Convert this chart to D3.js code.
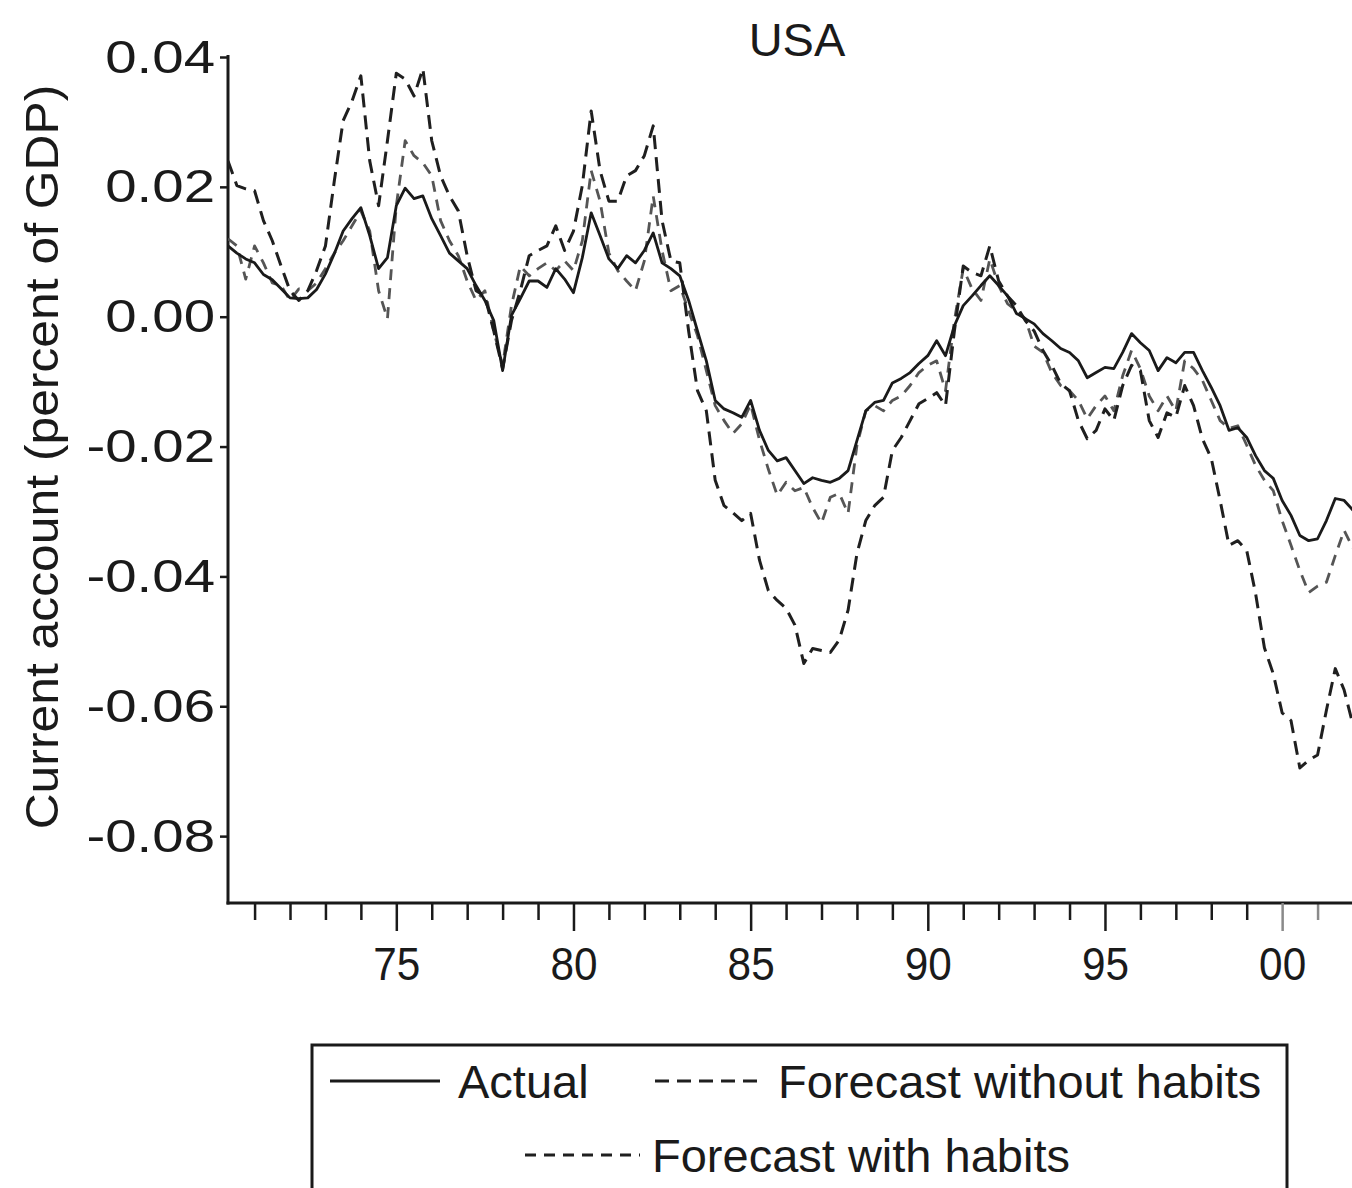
<!DOCTYPE html>
<html><head><meta charset="utf-8">
<script src="https://cdn.jsdelivr.net/npm/d3@7"></script>
<style>html,body{margin:0;padding:0;background:#fff;} svg{display:block;}</style>
</head><body><svg id="c" width="1352" height="1188"></svg>
<script>
// Quarterly observations, first quarter plotted at 1970.25
const startYear = 1970.25;
const stepYears = 0.25;

const actual = [0.0109,0.0098,0.0089,0.0083,0.0065,0.0057,0.0043,0.0029,0.0028,0.0029,
0.0042,0.0066,0.0097,0.0132,0.0151,0.0168,0.0125,0.0074,0.0091,0.0171,
0.0198,0.0182,0.0186,0.0151,0.0125,0.0098,0.0086,0.0074,0.0048,0.0025,
-0.0006,-0.0083,0.0002,0.0028,0.0055,0.0055,0.0045,0.0074,0.0058,0.0037,
0.0091,0.0160,0.0125,0.0089,0.0074,0.0094,0.0083,0.0102,0.0129,0.0083,
0.0074,0.0063,0.0025,-0.0022,-0.0068,-0.0129,-0.0142,-0.0148,-0.0155,-0.0129,
-0.0175,-0.0206,-0.0222,-0.0217,-0.0237,-0.0257,-0.0248,-0.0252,-0.0255,-0.0249,
-0.0237,-0.0191,-0.0145,-0.0132,-0.0129,-0.0102,-0.0095,-0.0086,-0.0072,-0.0060,
-0.0037,-0.0060,-0.0014,0.0017,0.0032,0.0048,0.0063,0.0048,0.0032,0.0005,
-0.0003,-0.0011,-0.0026,-0.0037,-0.0049,-0.0055,-0.0068,-0.0094,-0.0086,-0.0078,
-0.0080,-0.0055,-0.0026,-0.0040,-0.0052,-0.0083,-0.0063,-0.0071,-0.0055,-0.0055,
-0.0083,-0.0109,-0.0137,-0.0175,-0.0171,-0.0186,-0.0214,-0.0237,-0.0249,-0.0283,
-0.0306,-0.0337,-0.0345,-0.0342,-0.0314,-0.0280,-0.0283,-0.0298];

const withoutHabits = [0.0240,0.0202,0.0197,0.0194,0.0148,0.0117,0.0078,0.0040,0.0025,0.0040,
0.0071,0.0109,0.0209,0.0302,0.0332,0.0371,0.0240,0.0171,0.0271,0.0375,
0.0366,0.0340,0.0382,0.0271,0.0217,0.0186,0.0163,0.0094,0.0040,0.0032,
-0.0022,-0.0080,-0.0006,0.0040,0.0094,0.0102,0.0109,0.0140,0.0102,0.0132,
0.0202,0.0317,0.0225,0.0178,0.0178,0.0217,0.0225,0.0248,0.0294,0.0148,
0.0086,0.0083,-0.0022,-0.0114,-0.0145,-0.0252,-0.0291,-0.0302,-0.0314,-0.0303,
-0.0375,-0.0422,-0.0437,-0.0449,-0.0475,-0.0534,-0.0511,-0.0514,-0.0517,-0.0498,
-0.0452,-0.0365,-0.0314,-0.0291,-0.0278,-0.0206,-0.0186,-0.0160,-0.0134,-0.0126,
-0.0117,-0.0137,-0.0022,0.0078,0.0068,0.0063,0.0109,0.0055,0.0032,0.0017,
-0.0006,-0.0022,-0.0052,-0.0075,-0.0103,-0.0114,-0.0160,-0.0188,-0.0175,-0.0142,
-0.0160,-0.0106,-0.0075,-0.0083,-0.0160,-0.0186,-0.0148,-0.0155,-0.0106,-0.0137,
-0.0188,-0.0218,-0.0283,-0.0352,-0.0345,-0.0360,-0.0426,-0.0510,-0.0550,-0.0610,
-0.0622,-0.0695,-0.0683,-0.0675,-0.0606,-0.0542,-0.0575,-0.0629];

const withHabits = [0.0120,0.0109,0.0058,0.0109,0.0083,0.0052,0.0048,0.0025,0.0043,0.0040,
0.0052,0.0074,0.0098,0.0117,0.0140,0.0163,0.0132,0.0040,-0.0003,0.0171,
0.0271,0.0248,0.0237,0.0217,0.0148,0.0117,0.0094,0.0055,0.0025,0.0040,
-0.0022,-0.0075,0.0017,0.0078,0.0063,0.0074,0.0083,0.0071,0.0086,0.0071,
0.0117,0.0225,0.0178,0.0098,0.0071,0.0055,0.0040,0.0086,0.0186,0.0102,
0.0040,0.0048,0.0009,-0.0029,-0.0083,-0.0137,-0.0160,-0.0180,-0.0165,-0.0135,
-0.0190,-0.0235,-0.0275,-0.0255,-0.0268,-0.0263,-0.0294,-0.0318,-0.0278,-0.0272,
-0.0303,-0.0198,-0.0145,-0.0137,-0.0145,-0.0129,-0.0122,-0.0106,-0.0086,-0.0075,
-0.0068,-0.0114,-0.0006,0.0074,0.0043,0.0025,0.0089,0.0048,0.0020,0.0009,
-0.0003,-0.0045,-0.0055,-0.0086,-0.0106,-0.0114,-0.0129,-0.0157,-0.0137,-0.0122,
-0.0145,-0.0091,-0.0052,-0.0080,-0.0122,-0.0145,-0.0122,-0.0145,-0.0068,-0.0080,
-0.0098,-0.0129,-0.0160,-0.0172,-0.0168,-0.0198,-0.0229,-0.0252,-0.0268,-0.0314,
-0.0352,-0.0391,-0.0425,-0.0415,-0.0409,-0.0368,-0.0329,-0.0357];

const yTickValues = [0.04, 0.02, 0.00, -0.02, -0.04, -0.06, -0.08];
const yTickLabels = ["0.04", "0.02", "0.00", "-0.02", "-0.04", "-0.06", "-0.08"];
const xMajorYears = [1975, 1980, 1985, 1990, 1995, 2000];
const xMajorLabels = ["75", "80", "85", "90", "95", "00"];
const xMinorYears = [1971,1972,1973,1974,1976,1977,1978,1979,1981,1982,1983,1984,1986,1987,1988,1989,1991,1992,1993,1994,1996,1997,1998,1999,2001];
const greyTickYears = [2000, 2001];

const seriesNames = ["Actual", "Forecast without habits", "Forecast with habits"];
const titleText = "USA";
const yTitle = "Current account (percent of GDP)";

// ---- drawing ----
const FONT = "'Liberation Sans', Arial, Helvetica, sans-serif";
const FS = 47;
const svg = d3.select("#c");
const dates = actual.map((_, i) => startYear + i * stepYears);

const x = d3.scaleLinear().domain([1970.25, 2002.0]).range([228, 1353]);
const y = d3.scaleLinear().domain([-0.0903, 0.04]).range([903, 57]);

// title
svg.append("text").attr("x", 797).attr("y", 56).attr("text-anchor", "middle")
  .attr("font-family", FONT).attr("font-size", FS).attr("fill", "#1a1a1a").text(titleText);

// y title
svg.append("text").attr("transform", "translate(58,457) rotate(-90) scale(1.06,1)")
  .attr("text-anchor", "middle").attr("font-family", FONT).attr("font-size", FS)
  .attr("fill", "#1a1a1a").text(yTitle);

// y axis
const gy = svg.append("g").attr("transform", "translate(228,0)")
  .call(d3.axisLeft(y).tickValues(yTickValues).tickFormat((d, i) => yTickLabels[i])
    .tickSize(8).tickSizeOuter(0).tickPadding(5));
gy.select(".domain").attr("stroke", "#1a1a1a").attr("stroke-width", 3);
gy.selectAll(".tick line").attr("stroke", "#1a1a1a").attr("stroke-width", 2.5);
gy.selectAll(".tick text").attr("font-family", FONT).attr("font-size", FS).attr("fill", "#1a1a1a")
  .attr("x", 0).attr("transform", "translate(-13,0) scale(1.2,1)");
gy.select(".domain").attr("d", `M0,${y(0.04) - 2}V${y.range()[0] + 1.5}`);

// x axis: minor ticks
const gxMinor = svg.append("g").attr("transform", "translate(0,903)")
  .call(d3.axisBottom(x).tickValues(xMinorYears).tickFormat("").tickSize(17).tickSizeOuter(0));
gxMinor.select(".domain").remove();
gxMinor.selectAll(".tick line").attr("stroke-width", 2.5)
  .attr("stroke", d => greyTickYears.includes(d) ? "#8a8a8a" : "#1a1a1a");

// x axis: major ticks with labels
const gx = svg.append("g").attr("transform", "translate(0,903)")
  .call(d3.axisBottom(x).tickValues(xMajorYears).tickFormat((d, i) => xMajorLabels[i])
    .tickSize(28).tickSizeOuter(0).tickPadding(16));
gx.select(".domain").attr("stroke", "#1a1a1a").attr("stroke-width", 3)
  .attr("d", `M226.5,0H1352`);
gx.selectAll(".tick line").attr("stroke-width", 2.5)
  .attr("stroke", d => greyTickYears.includes(d) ? "#8a8a8a" : "#1a1a1a");
gx.selectAll(".tick text").attr("font-family", FONT).attr("font-size", FS).attr("fill", "#1a1a1a")
  .attr("transform", "scale(0.9,1)");

// lines
const styles = [
  { data: actual, color: "#1a1a1a", dash: null, w: 2.8 },
  { data: withoutHabits, color: "#1f1f1f", dash: "14,8", w: 3 },
  { data: withHabits, color: "#555", dash: "11,8", w: 2.8 }
];
const line = d3.line().x((d, i) => x(dates[i])).y(d => y(d));
svg.append("defs").append("clipPath").attr("id", "clip")
  .append("rect").attr("x", 228).attr("y", 0).attr("width", 1130).attr("height", 902);
const gLines = svg.append("g").attr("clip-path", "url(#clip)");
[2, 1, 0].forEach(k => {
  const s = styles[k];
  gLines.append("path").attr("d", line(s.data)).attr("fill", "none")
    .attr("stroke", s.color).attr("stroke-width", s.w)
    .attr("stroke-linejoin", "round")
    .attr("stroke-dasharray", s.dash);
});

// legend
const lg = svg.append("g");
lg.append("rect").attr("x", 312).attr("y", 1045).attr("width", 975).attr("height", 220)
  .attr("fill", "none").attr("stroke", "#1a1a1a").attr("stroke-width", 3);
const legendItems = [
  { s: 0, x1: 330, x2: 440, ly: 1081, tx: 458, ty: 1098 },
  { s: 1, x1: 655, x2: 765, ly: 1081, tx: 778, ty: 1098 },
  { s: 2, x1: 525, x2: 640, ly: 1155, tx: 652, ty: 1172 }
];
legendItems.forEach(it => {
  const s = styles[it.s];
  lg.append("line").attr("x1", it.x1).attr("x2", it.x2).attr("y1", it.ly).attr("y2", it.ly)
    .attr("stroke", it.s === 2 ? "#1f1f1f" : s.color).attr("stroke-width", s.w).attr("stroke-dasharray", s.dash);
  lg.append("text").attr("x", it.tx).attr("y", it.ty).attr("font-family", FONT)
    .attr("font-size", FS).attr("fill", "#1a1a1a").text(seriesNames[it.s]);
});
</script>
</body></html>
